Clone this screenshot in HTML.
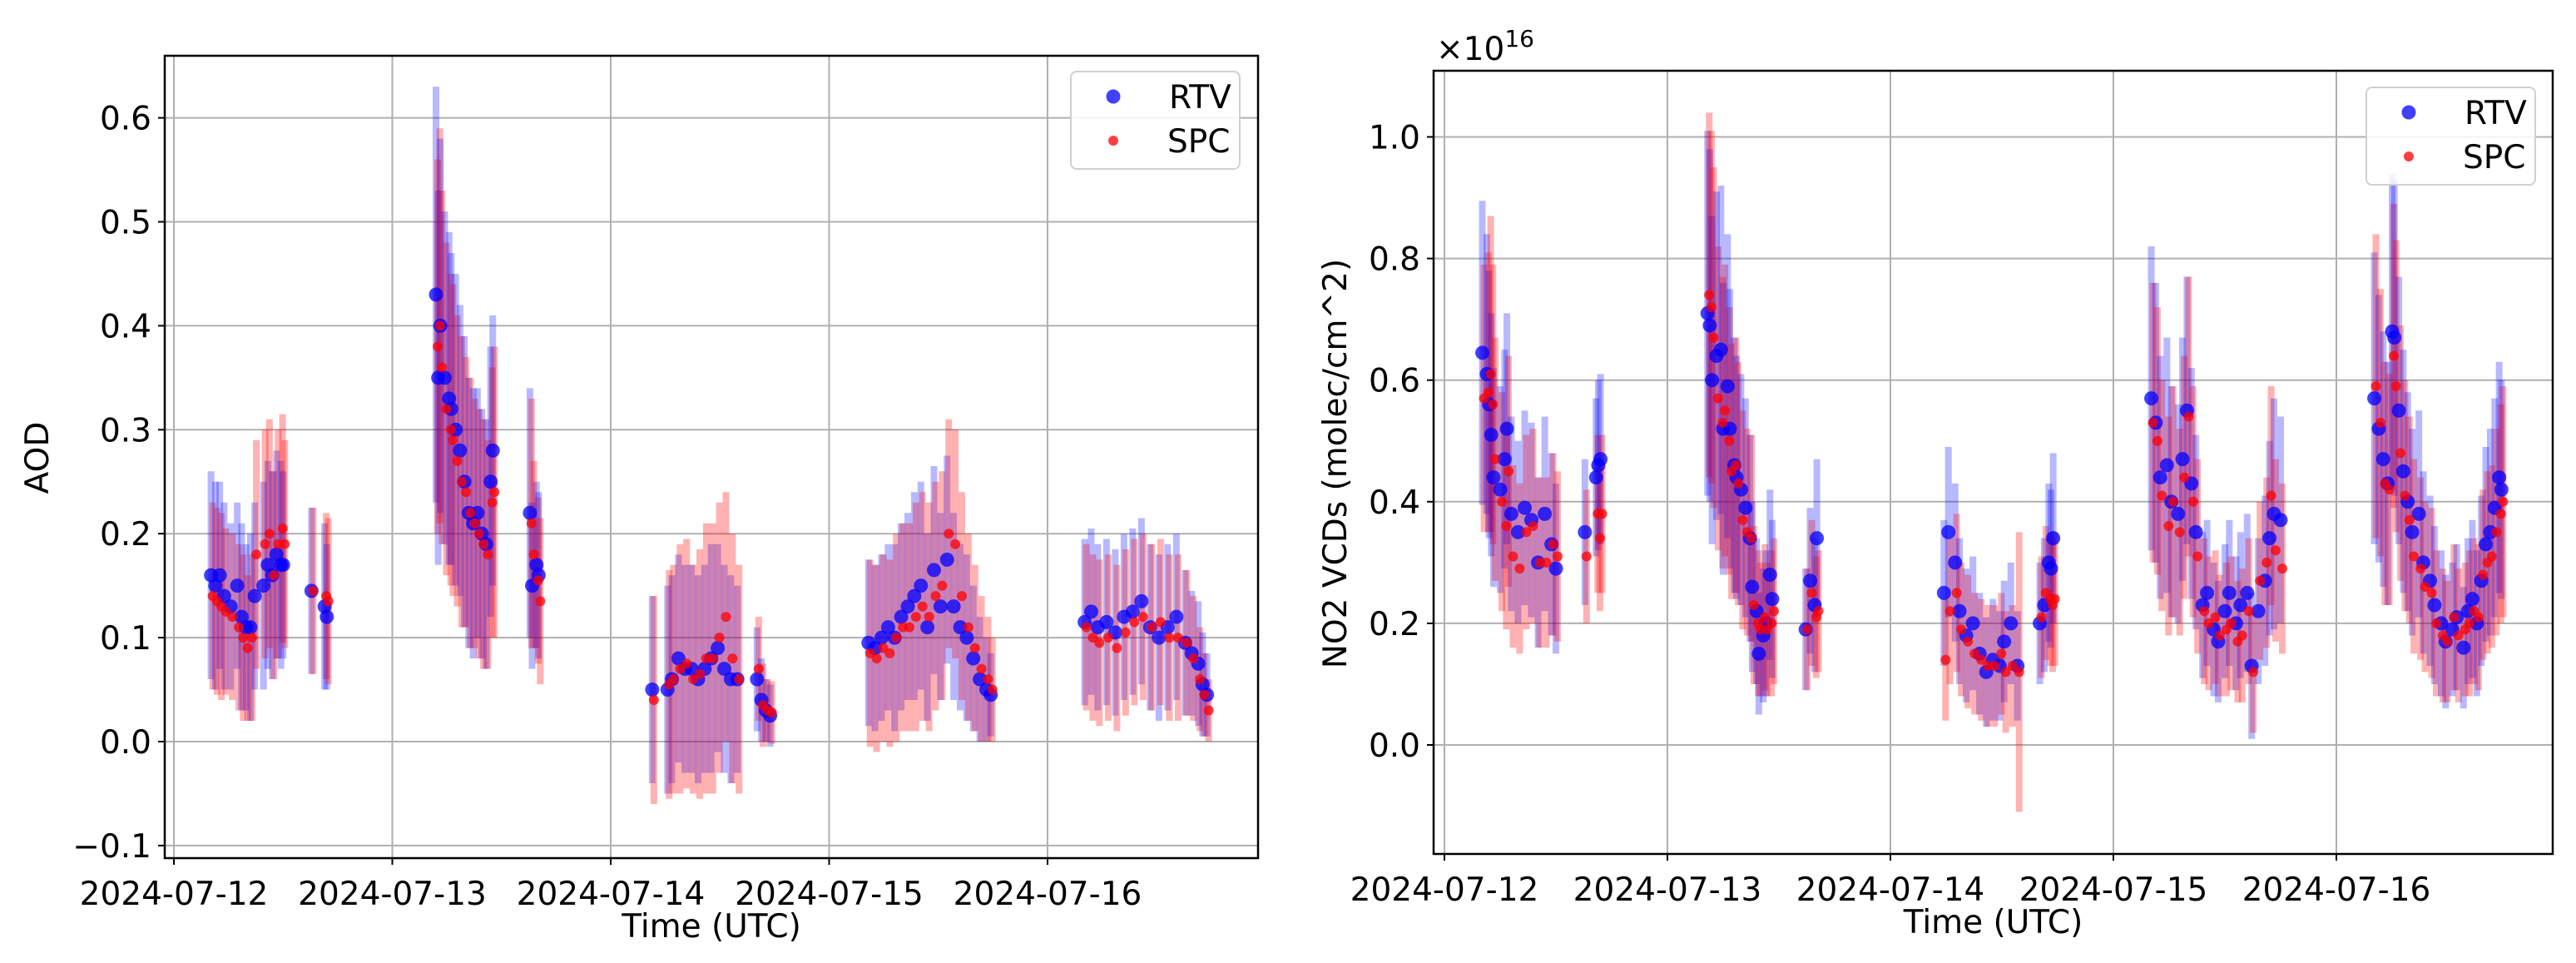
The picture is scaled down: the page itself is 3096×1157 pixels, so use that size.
<!DOCTYPE html>
<html><head><meta charset="utf-8"><style>
html,body{margin:0;padding:0;background:#fff}
svg{display:block}
text{font-family:"DejaVu Sans","Liberation Sans",sans-serif;fill:#000}
</style></head><body>
<svg id="fig" width="3096" height="1157" viewBox="0 0 3096 1157" xmlns="http://www.w3.org/2000/svg"></svg>
<script>
// ---- Left panel (AOD) data: days since 2024-07-12 00:00 UTC ----
const aodTimes=[0.17,0.19,0.21,0.23,0.26,0.29,0.31,0.33,0.35,0.37,0.41,0.43,0.45,0.47,0.49,0.50,0.63,0.69,0.70,
1.20,1.21,1.22,1.24,1.26,1.27,1.29,1.31,1.33,1.35,1.37,1.39,1.41,1.43,1.45,1.46,1.63,1.64,1.66,1.67,
2.19,2.26,2.28,2.31,2.34,2.37,2.40,2.43,2.46,2.49,2.52,2.55,2.58,2.67,2.69,2.71,2.73,
3.18,3.21,3.24,3.27,3.30,3.33,3.36,3.39,3.42,3.45,3.48,3.51,3.54,3.57,3.60,3.63,3.66,3.69,3.72,3.74,
4.17,4.20,4.23,4.27,4.31,4.35,4.39,4.43,4.47,4.51,4.55,4.59,4.63,4.66,4.69,4.71,4.73];
const aodRtv=[0.16,0.15,0.16,0.14,0.13,0.15,0.12,0.11,0.11,0.14,0.15,0.17,0.16,0.18,0.17,0.17,0.145,0.13,0.12,
0.43,0.35,0.40,0.35,0.33,0.32,0.30,0.28,0.25,0.22,0.21,0.22,0.20,0.19,0.25,0.28,0.22,0.15,0.17,0.16,
0.05,0.05,0.06,0.08,0.07,0.07,0.06,0.07,0.08,0.09,0.07,0.06,0.06,0.06,0.04,0.03,0.025,
0.095,0.09,0.10,0.11,0.10,0.12,0.13,0.14,0.15,0.11,0.165,0.13,0.175,0.13,0.11,0.10,0.08,0.06,0.05,0.045,
0.115,0.125,0.11,0.115,0.105,0.12,0.125,0.135,0.11,0.10,0.11,0.12,0.095,0.085,0.075,0.055,0.045];
const aodSpc=[0.14,0.135,0.13,0.125,0.12,0.11,0.10,0.09,0.10,0.18,0.19,0.20,0.16,0.19,0.205,0.19,0.145,0.14,0.135,
0.38,0.40,0.36,0.32,0.30,0.29,0.27,0.25,0.24,0.22,0.21,0.20,0.19,0.18,0.23,0.24,0.21,0.18,0.155,0.135,
0.04,0.055,0.06,0.07,0.075,0.06,0.065,0.08,0.08,0.10,0.12,0.08,0.06,0.07,0.035,0.03,0.028,
0.085,0.08,0.09,0.085,0.10,0.11,0.11,0.12,0.13,0.12,0.14,0.15,0.20,0.19,0.14,0.11,0.09,0.07,0.06,0.05,
0.11,0.10,0.095,0.10,0.09,0.105,0.115,0.12,0.11,0.115,0.10,0.10,0.095,0.08,0.06,0.045,0.03];
const aodRtvErr=[0.10,0.10,0.09,0.09,0.08,0.08,0.09,0.08,0.09,0.09,0.10,0.10,0.10,0.10,0.10,0.09,0.08,0.08,0.07,
0.20,0.18,0.18,0.16,0.16,0.15,0.15,0.14,0.14,0.13,0.13,0.12,0.12,0.12,0.13,0.13,0.12,0.08,0.08,0.08,
0.09,0.10,0.10,0.10,0.10,0.10,0.10,0.10,0.11,0.10,0.10,0.10,0.09,0.05,0.04,0.03,0.03,
0.08,0.08,0.08,0.08,0.09,0.09,0.09,0.10,0.10,0.09,0.10,0.09,0.10,0.09,0.08,0.08,0.07,0.06,0.05,0.04,
0.08,0.08,0.08,0.08,0.08,0.08,0.08,0.08,0.08,0.08,0.08,0.08,0.07,0.06,0.06,0.05,0.04];
const aodSpcErr=[0.09,0.09,0.09,0.08,0.08,0.08,0.08,0.07,0.08,0.11,0.11,0.11,0.10,0.11,0.11,0.10,0.08,0.08,0.08,
0.18,0.19,0.17,0.16,0.15,0.15,0.14,0.14,0.13,0.13,0.12,0.12,0.12,0.11,0.13,0.14,0.12,0.09,0.08,0.08,
0.10,0.11,0.11,0.12,0.12,0.11,0.12,0.13,0.13,0.13,0.12,0.12,0.11,0.05,0.04,0.03,0.03,
0.09,0.09,0.09,0.09,0.10,0.10,0.10,0.11,0.11,0.11,0.11,0.11,0.11,0.11,0.10,0.09,0.08,0.07,0.06,0.05,
0.08,0.08,0.08,0.08,0.08,0.08,0.08,0.08,0.08,0.08,0.08,0.08,0.07,0.06,0.05,0.04,0.03];
const aodTicks=[-0.1,0,0.1,0.2,0.3,0.4,0.5,0.6];
const dateTicks=['2024-07-12','2024-07-13','2024-07-14','2024-07-15','2024-07-16'];

// ---- Right panel (NO2, x1e16) ----
const no2Times=[0.17,0.19,0.20,0.21,0.22,0.25,0.27,0.28,0.30,0.33,0.36,0.39,0.42,0.45,0.48,0.50,0.63,0.68,0.69,0.70,
1.18,1.19,1.20,1.22,1.24,1.25,1.27,1.28,1.30,1.31,1.33,1.35,1.37,1.38,1.40,1.41,1.43,1.44,1.46,1.47,1.62,1.64,1.66,1.67,
2.24,2.26,2.29,2.31,2.34,2.37,2.40,2.43,2.46,2.49,2.51,2.54,2.57,2.67,2.69,2.71,2.72,2.73,
3.17,3.19,3.21,3.24,3.26,3.29,3.31,3.33,3.35,3.37,3.40,3.42,3.45,3.47,3.50,3.52,3.55,3.57,3.60,3.62,3.65,3.68,3.70,3.72,3.75,
4.17,4.19,4.21,4.23,4.25,4.26,4.28,4.30,4.32,4.34,4.37,4.39,4.42,4.44,4.47,4.49,4.52,4.54,4.57,4.59,4.61,4.63,4.65,4.67,4.69,4.71,4.73,4.74];
const no2Rtv=[0.645,0.61,0.56,0.51,0.44,0.42,0.47,0.52,0.38,0.35,0.39,0.37,0.30,0.38,0.33,0.29,0.35,0.44,0.46,0.47,
0.71,0.69,0.60,0.64,0.65,0.52,0.59,0.52,0.46,0.44,0.42,0.39,0.34,0.26,0.22,0.15,0.18,0.20,0.28,0.24,0.19,0.27,0.23,0.34,
0.25,0.35,0.30,0.22,0.18,0.20,0.15,0.12,0.14,0.13,0.17,0.20,0.13,0.20,0.23,0.30,0.29,0.34,
0.57,0.53,0.44,0.46,0.40,0.38,0.47,0.55,0.43,0.35,0.23,0.25,0.19,0.17,0.22,0.25,0.20,0.23,0.25,0.13,0.22,0.27,0.34,0.38,0.37,
0.57,0.52,0.47,0.43,0.68,0.67,0.55,0.45,0.40,0.35,0.38,0.30,0.27,0.23,0.20,0.17,0.19,0.21,0.16,0.22,0.24,0.20,0.27,0.33,0.35,0.39,0.44,0.42];
const no2Spc=[0.57,0.58,0.61,0.56,0.47,0.40,0.36,0.45,0.31,0.29,0.35,0.36,0.30,0.30,0.33,0.31,0.31,0.38,0.34,0.38,
0.74,0.72,0.67,0.57,0.53,0.55,0.50,0.45,0.46,0.43,0.37,0.35,0.34,0.23,0.20,0.19,0.21,0.19,0.20,0.22,0.19,0.25,0.21,0.22,
0.14,0.22,0.25,0.19,0.17,0.15,0.14,0.13,0.13,0.15,0.12,0.13,0.12,0.21,0.25,0.24,0.23,0.24,
0.53,0.50,0.41,0.36,0.40,0.35,0.44,0.54,0.40,0.31,0.22,0.20,0.21,0.18,0.19,0.20,0.17,0.18,0.22,0.12,0.27,0.30,0.41,0.32,0.29,
0.59,0.53,0.43,0.42,0.64,0.59,0.48,0.41,0.37,0.31,0.29,0.26,0.25,0.20,0.18,0.17,0.21,0.18,0.19,0.20,0.22,0.21,0.28,0.30,0.31,0.35,0.38,0.40];
const no2RtvErr=[0.25,0.23,0.22,0.20,0.18,0.17,0.18,0.19,0.16,0.15,0.16,0.16,0.14,0.16,0.15,0.14,0.12,0.13,0.14,0.14,
0.30,0.29,0.27,0.27,0.27,0.24,0.25,0.23,0.21,0.20,0.19,0.18,0.17,0.14,0.12,0.10,0.11,0.12,0.14,0.13,0.10,0.12,0.11,0.13,
0.12,0.14,0.13,0.12,0.11,0.11,0.10,0.09,0.10,0.09,0.10,0.10,0.09,0.10,0.11,0.13,0.13,0.14,
0.25,0.23,0.20,0.21,0.19,0.18,0.20,0.22,0.19,0.16,0.12,0.12,0.11,0.10,0.11,0.12,0.11,0.12,0.13,0.12,0.12,0.14,0.16,0.19,0.17,
0.24,0.22,0.21,0.20,0.26,0.26,0.22,0.20,0.18,0.17,0.17,0.15,0.14,0.13,0.12,0.11,0.11,0.12,0.10,0.12,0.13,0.12,0.14,0.16,0.17,0.18,0.19,0.18];
const no2SpcErr=[0.22,0.23,0.26,0.23,0.20,0.18,0.17,0.19,0.15,0.14,0.16,0.16,0.14,0.14,0.15,0.14,0.11,0.13,0.12,0.13,
0.30,0.29,0.28,0.25,0.24,0.24,0.22,0.21,0.21,0.20,0.18,0.17,0.17,0.13,0.12,0.11,0.12,0.11,0.12,0.12,0.10,0.12,0.10,0.10,
0.10,0.12,0.13,0.11,0.11,0.10,0.10,0.10,0.10,0.10,0.10,0.10,0.23,0.10,0.11,0.11,0.11,0.11,
0.23,0.22,0.19,0.18,0.19,0.17,0.20,0.23,0.19,0.16,0.12,0.11,0.11,0.10,0.11,0.11,0.10,0.11,0.12,0.10,0.13,0.14,0.18,0.15,0.14,
0.25,0.22,0.20,0.19,0.25,0.24,0.21,0.19,0.17,0.16,0.15,0.14,0.14,0.12,0.11,0.10,0.12,0.11,0.11,0.12,0.12,0.12,0.14,0.15,0.15,0.17,0.18,0.19];
const no2Ticks=[0,0.2,0.4,0.6,0.8,1.0];

const NS='http://www.w3.org/2000/svg';
const fig=document.getElementById('fig');
function mk(tag,attrs,parent,txt){const e=document.createElementNS(NS,tag);for(const k in attrs)e.setAttribute(k,attrs[k]);if(txt!==undefined)e.textContent=txt;(parent||fig).appendChild(e);return e;}

function drawPanel(cfg){
  const g=mk('g',{});
  
  
  const xs=d=>cfg.x0+cfg.dayW*d;
  const ys=v=>cfg.yZero-cfg.yPer*v;
  cfg.yTicks.forEach(t=>{mk('line',{x1:cfg.L,x2:cfg.R,y1:ys(t),y2:ys(t),stroke:'#b0b0b0','stroke-width':2},g);});
  dateTicks.forEach((t,i)=>{mk('line',{x1:xs(i),x2:xs(i),y1:cfg.T,y2:cfg.B,stroke:'#b0b0b0','stroke-width':2},g);});
  const eg=mk('g',{},g);
  
  
  cfg.t.forEach((d,i)=>{
    mk('line',{x1:xs(d),x2:xs(d),y1:ys(cfg.rtv[i]-cfg.rtvE[i]),y2:ys(cfg.rtv[i]+cfg.rtvE[i]),stroke:'#0000ff','stroke-opacity':0.28,'stroke-width':8},eg);
    mk('line',{x1:xs(d)+2,x2:xs(d)+2,y1:ys(cfg.spc[i]-cfg.spcE[i]),y2:ys(cfg.spc[i]+cfg.spcE[i]),stroke:'#ff0000','stroke-opacity':0.3,'stroke-width':8},eg);
  });
  const mg=mk('g',{},g);
  
  
  cfg.t.forEach((d,i)=>{const c=mk('circle',{cx:xs(d),cy:ys(cfg.rtv[i]),r:8.5,fill:'#0000ff','fill-opacity':0.75},mg);
    
    });
  const sg=mk('g',{},g);
  
  
  cfg.t.forEach((d,i)=>{const c=mk('circle',{cx:xs(d)+2,cy:ys(cfg.spc[i]),r:6,fill:'#ff0000','fill-opacity':0.75},sg);
    
    });
  const fr=mk('rect',{x:cfg.L,y:cfg.T,width:cfg.R-cfg.L,height:cfg.B-cfg.T,fill:'none',stroke:'#000','stroke-width':2.5},g);
  
  
  cfg.yTicks.forEach(t=>{
    mk('line',{x1:cfg.L-8,x2:cfg.L,y1:ys(t),y2:ys(t),stroke:'#000','stroke-width':2},g);
    const s=(t<0?'\u2212':'')+Math.abs(t).toFixed(1);
    const tx=mk('text',{x:cfg.L-16,y:ys(t)+14,'font-size':39,'text-anchor':'end'},g,s);
    
    
  });
  dateTicks.forEach((t,i)=>{
    mk('line',{x1:xs(i),x2:xs(i),y1:cfg.B,y2:cfg.B+8,stroke:'#000','stroke-width':2},g);
    const tx=mk('text',{x:xs(i),y:cfg.B+56,'font-size':39,'text-anchor':'middle'},g,t);
    
    
  });
  const xl=mk('text',{x:(cfg.L+cfg.R)/2,y:cfg.B+95,'font-size':39,'text-anchor':'middle'},g,'Time (UTC)');
  
  
  const yl=mk('text',{x:cfg.ylx,y:cfg.yly,'font-size':39,'text-anchor':'middle',transform:`rotate(-90 ${cfg.ylx} ${cfg.yly})`},g,cfg.ylabel);
  
  
  const lg=mk('g',{},g);
  
  
  mk('rect',{x:cfg.lx,y:cfg.ly,width:203,height:117,rx:7,fill:'#fff','fill-opacity':0.85,stroke:'#d0d0d0','stroke-width':2},lg);
  const e1=mk('g',{},lg);
  
  
  mk('circle',{cx:cfg.lx+51,cy:cfg.ly+30,r:8.5,fill:'#0000ff','fill-opacity':0.75},e1);
  mk('text',{x:cfg.lx+118,y:cfg.ly+44,'font-size':39},e1,'RTV');
  const e2=mk('g',{},lg);
  
  
  mk('circle',{cx:cfg.lx+51,cy:cfg.ly+83,r:6,fill:'#ff0000','fill-opacity':0.75},e2);
  mk('text',{x:cfg.lx+116,y:cfg.ly+97,'font-size':39},e2,'SPC');
}

drawPanel({name:'aod-panel',L:198,R:1512,T:67,B:1031,x0:209,dayW:262.5,yZero:891,yPer:1249,
  yTicks:aodTicks,t:aodTimes,rtv:aodRtv,spc:aodSpc,rtvE:aodRtvErr,spcE:aodSpcErr,
  ylabel:'AOD',ylx:58,yly:550,lx:1287,ly:86});
drawPanel({name:'no2-panel',L:1723,R:3068,T:85,B:1026,x0:1736,dayW:268,yZero:895,yPer:730.5,
  yTicks:no2Ticks,t:no2Times,rtv:no2Rtv,spc:no2Spc,rtvE:no2RtvErr,spcE:no2SpcErr,
  ylabel:'NO2 VCDs (molec/cm^2)',ylx:1618,yly:557,lx:2844,ly:105});
const sc=mk('text',{x:1726,y:72,'font-size':39});


sc.textContent='\u00d710';
mk('tspan',{dy:-16,'font-size':28},sc,'16');
</script>
</body></html>
